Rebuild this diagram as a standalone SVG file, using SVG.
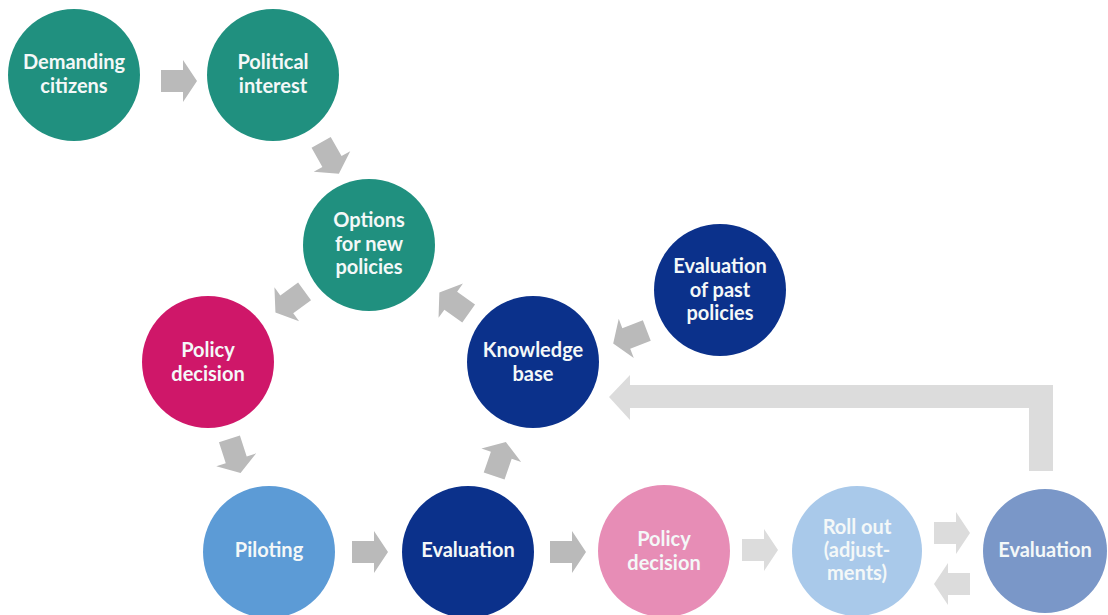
<svg xmlns="http://www.w3.org/2000/svg" width="1108" height="615" viewBox="0 0 1108 615">
  <style>
    .lbl { font-family: Lato, "Open Sans", "Liberation Sans", sans-serif; font-weight: bold; font-size: 20px; fill: #f4f8f8; text-anchor: middle; }
    .teal { fill: #20907f; }
    .pink { fill: #cf1769; }
    .navy { fill: #0b318b; }
    .sky { fill: #5c9bd6; }
    .rose { fill: #e78db6; }
    .pale { fill: #a9c9ea; }
    .slate { fill: #7a97c8; }
    .arr { fill: #bababa; }
    .arr-lt { fill: #dcdcdc; }
  </style>
  <defs>
    <!-- block arrow pointing right, centred on the origin -->
    <path id="blk" d="M-18,-11 L4,-11 L4,-21 L18,0 L4,21 L4,11 L-18,11 Z"/>
  </defs>
  <rect width="1108" height="615" fill="#ffffff"/>

  <g id="connectors">
    <use href="#blk" class="arr" transform="translate(179,81)"/>
    <use href="#blk" class="arr" transform="translate(330,158) rotate(60.5)"/>
    <use href="#blk" class="arr" transform="translate(290,302) rotate(144)"/>
    <use href="#blk" class="arr" transform="translate(454,303) rotate(-144.5)"/>
    <use href="#blk" class="arr" transform="translate(630,337) rotate(159)"/>
    <use href="#blk" class="arr" transform="translate(235,456) rotate(72)"/>
    <use href="#blk" class="arr" transform="translate(370,552)"/>
    <use href="#blk" class="arr" transform="translate(500,459) rotate(-71)"/>
    <use href="#blk" class="arr" transform="translate(568,552)"/>
    <use href="#blk" class="arr-lt" transform="translate(760,550)"/>
    <use href="#blk" class="arr-lt" transform="translate(952,533)"/>
    <use href="#blk" class="arr-lt" transform="translate(952,584) rotate(180)"/>
    <!-- return path from the last evaluation to the knowledge base -->
    <path class="arr-lt" d="M1053,471 L1053,385 L630,385 L630,375 L609,397 L630,420 L630,408 L1029,408 L1029,471 Z"/>
  </g>

  <g id="demanding-citizens">
    <circle class="teal" cx="74" cy="75" r="66"/>
    <text class="lbl" x="74" y="69">Demanding</text>
    <text class="lbl" x="74" y="93">citizens</text>
  </g>
  <g id="political-interest">
    <circle class="teal" cx="273" cy="75" r="66"/>
    <text class="lbl" x="273" y="69">Political</text>
    <text class="lbl" x="273" y="93">interest</text>
  </g>
  <g id="options-new-policies">
    <circle class="teal" cx="369" cy="245" r="66"/>
    <text class="lbl" x="369" y="227">Options</text>
    <text class="lbl" x="369" y="251">for new</text>
    <text class="lbl" x="369" y="274">policies</text>
  </g>
  <g id="policy-decision-1">
    <circle class="pink" cx="208" cy="362" r="66"/>
    <text class="lbl" x="208" y="357">Policy</text>
    <text class="lbl" x="208" y="381">decision</text>
  </g>
  <g id="knowledge-base">
    <circle class="navy" cx="533" cy="362" r="66"/>
    <text class="lbl" x="533" y="357">Knowledge</text>
    <text class="lbl" x="533" y="381">base</text>
  </g>
  <g id="evaluation-past-policies">
    <circle class="navy" cx="720" cy="290" r="66"/>
    <text class="lbl" x="720" y="273">Evaluation</text>
    <text class="lbl" x="720" y="297">of past</text>
    <text class="lbl" x="720" y="320">policies</text>
  </g>
  <g id="piloting">
    <circle class="sky" cx="269" cy="552" r="66"/>
    <text class="lbl" x="269" y="557">Piloting</text>
  </g>
  <g id="evaluation-1">
    <circle class="navy" cx="468" cy="552" r="66"/>
    <text class="lbl" x="468" y="557">Evaluation</text>
  </g>
  <g id="policy-decision-2">
    <circle class="rose" cx="664" cy="551" r="66"/>
    <text class="lbl" x="664" y="546">Policy</text>
    <text class="lbl" x="664" y="570">decision</text>
  </g>
  <g id="roll-out">
    <circle class="pale" cx="857" cy="551" r="65"/>
    <text class="lbl" x="857" y="534">Roll out</text>
    <text class="lbl" x="857" y="557" font-weight="normal">(adjust-</text>
    <text class="lbl" x="857" y="580" font-weight="normal">ments)</text>
  </g>
  <g id="evaluation-2">
    <circle class="slate" cx="1045" cy="551" r="62"/>
    <text class="lbl" x="1045" y="557">Evaluation</text>
  </g>
</svg>
